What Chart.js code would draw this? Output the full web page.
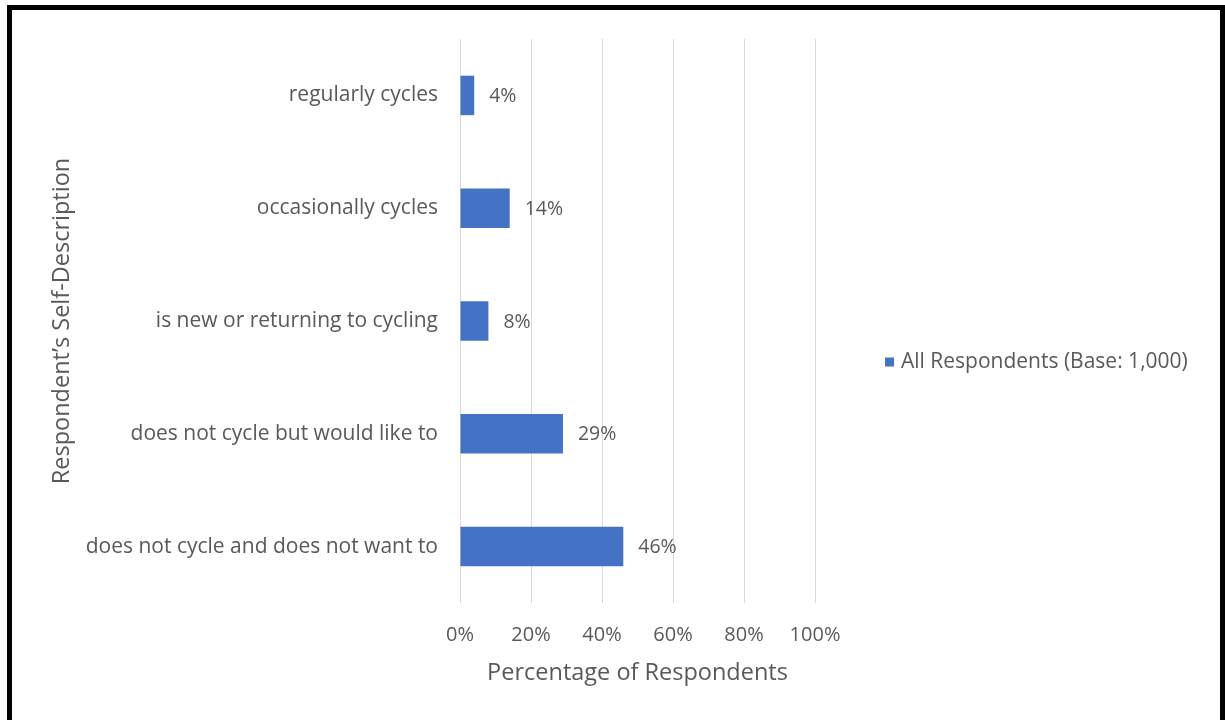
<!DOCTYPE html>
<html>
<head>
<meta charset="utf-8">
<script src="https://cdn.jsdelivr.net/npm/chart.js@4/dist/chart.umd.min.js"></script>
<style>
  html, body { margin: 0; padding: 0; background: #fff; }
  #frame {
    position: absolute; left: 7px; top: 5px; width: 1208px; height: 730px;
    border-left: 5px solid #000; border-top: 5px solid #000; border-right: 5px solid #000;
  }
  #wrap { position: absolute; left: 0; top: 0; width: 1225px; height: 720px; }
</style>
</head>
<body>
<div id="frame"></div>
<div id="wrap"><canvas id="chart" width="1225" height="720"></canvas></div>
<script>
const categories = [
  "regularly cycles",
  "occasionally cycles",
  "is new or returning to cycling",
  "does not cycle but would like to",
  "does not cycle and does not want to",
];
const values = [4, 14, 8, 29, 46];
const seriesLabel = "All Respondents (Base: 1,000)";
const xTicks = [0, 20, 40, 60, 80, 100];

const textColor = "#595959";
const fontFamily = "'Open Sans', sans-serif";

// value labels at the end of each bar
const barLabels = {
  id: "barLabels",
  afterDatasetsDraw(chart) {
    const ctx = chart.ctx;
    const meta = chart.getDatasetMeta(0);
    ctx.save();
    ctx.font = `19.5px ${fontFamily}`;
    ctx.fillStyle = textColor;
    ctx.textAlign = "left";
    ctx.textBaseline = "middle";
    meta.data.forEach((bar, i) => {
      ctx.fillText(values[i] + "%", bar.x + 15, bar.y + 1);
    });
    ctx.restore();
  },
};

// legend on the right, Excel style
const sideLegend = {
  id: "sideLegend",
  afterDraw(chart) {
    const ctx = chart.ctx;
    const ds = chart.data.datasets[0];
    const x = chart.chartArea.right + 70;
    const y = chart.height / 2 + 2;
    ctx.save();
    ctx.fillStyle = ds.backgroundColor;
    ctx.fillRect(x, y - 4.5, 9, 9);
    ctx.font = `21px ${fontFamily}`;
    ctx.fillStyle = textColor;
    ctx.textBaseline = "middle";
    ctx.fillText(ds.label, x + 16, y);
    ctx.restore();
  },
};

new Chart(document.getElementById("chart"), {
  type: "bar",
  data: {
    labels: categories,
    datasets: [
      {
        label: seriesLabel,
        data: values,
        backgroundColor: "#4472C4",
        categoryPercentage: 1,
        barPercentage: 0.35,
      },
    ],
  },
  options: {
    indexAxis: "y",
    responsive: false,
    animation: false,
    layout: { padding: { left: 46, top: 39, right: 410, bottom: 0 } },
    plugins: { legend: { display: false }, tooltip: { enabled: false } },
    scales: {
      x: {
        min: 0,
        max: 100,
        afterBuildTicks: (scale) => {
          scale.ticks = xTicks.map((v) => ({ value: v }));
        },
        afterFit: (scale) => {
          scale.height = 117;
        },
        grid: { color: "#d9d9d9", drawTicks: false },
        border: { display: false },
        ticks: {
          padding: 20,
          color: textColor,
          font: { family: fontFamily, size: 20 },
          callback: (v) => v + "%",
        },
        title: {
          display: true,
          text: "Percentage of Respondents",
          color: textColor,
          font: { family: fontFamily, size: 23.5 },
          padding: { top: 0, bottom: 33 },
        },
      },
      y: {
        afterFit: (scale) => {
          scale.width = 414;
        },
        grid: { display: false },
        border: { display: false },
        ticks: {
          padding: 14,
          color: textColor,
          font: { family: fontFamily, size: 21 },
        },
        title: {
          display: true,
          text: "Respondent’s Self-Description",
          color: textColor,
          font: { family: fontFamily, size: 23.5 },
          padding: { top: 2, bottom: 0 },
        },
      },
    },
  },
  plugins: [barLabels, sideLegend],
});
</script>
</body>
</html>
